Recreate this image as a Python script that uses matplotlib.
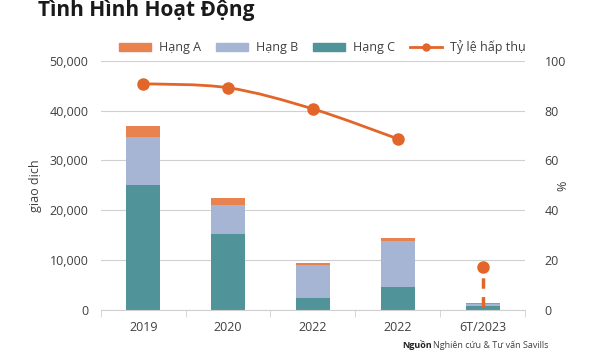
import matplotlib.pyplot as plt
import numpy as np
from matplotlib.path import Path
from matplotlib.patches import PathPatch
from matplotlib.lines import Line2D
from matplotlib.patches import Patch

plt.rcParams['font.family'] = ['Open Sans', 'DejaVu Sans']

# data
categories = ['2019', '2020', '2022', '2022', '6T/2023']
hang_c = [25100, 15300, 2400, 4600, 700]
hang_b = [9600, 5800, 6600, 9200, 500]
hang_a = [2300, 1400, 400, 600, 100]
ty_le = [90.8, 89.2, 80.7, 68.7, 17.3]

c_a = '#E8834F'
c_b = '#A6B5D3'
c_c = '#509399'
c_line = '#E2662A'
c_text = '#404040'
c_grid = '#D0D0D0'

fig = plt.figure(figsize=(6, 3.6), dpi=100)
ax = fig.add_axes([0.168, 0.139, 0.707, 0.692])
ax2 = ax.twinx()

x = np.arange(len(categories))
w = 0.4
bc = np.array(hang_c)
bb = np.array(hang_b)
ba = np.array(hang_a)
ax.bar(x, bc, w, color=c_c, zorder=2)
ax.bar(x, bb, w, bottom=bc, color=c_b, zorder=2)
ax.bar(x, ba, w, bottom=bc + bb, color=c_a, zorder=2)

ax.set_xlim(-0.5, len(categories) - 0.5)
ax.set_ylim(0, 50000)
ax.set_yticks(np.arange(0, 50001, 10000))
ax.set_yticklabels([f'{v:,}' for v in range(0, 50001, 10000)])
ax.grid(axis='y', color=c_grid, lw=0.8, zorder=0)
ax.set_axisbelow(True)
for s in ['top', 'right', 'left']:
    ax.spines[s].set_visible(False)
for s in ax2.spines.values():
    s.set_visible(False)
ax.spines['bottom'].set_color(c_grid)
ax.set_xticks(x)
ax.set_xticklabels(categories)
ax.set_xticks(np.arange(-0.5, len(categories)), minor=True)
ax.tick_params(axis='x', which='major', length=0, pad=8, labelsize=9, labelcolor=c_text)
ax.tick_params(axis='x', which='minor', length=5, color=c_grid)
ax.tick_params(axis='y', length=0, pad=9, labelsize=9, labelcolor=c_text)
ax.set_ylabel('giao dịch', fontsize=9, color=c_text)
ax.yaxis.set_label_coords(-0.139, 0.5)

ax2.set_ylim(0, 100)
ax2.set_yticks(np.arange(0, 101, 20))
ax2.tick_params(axis='y', length=0, pad=14, labelsize=9, labelcolor=c_text)
ax2.set_ylabel('%', fontsize=9, color=c_text)
ax2.yaxis.set_label_coords(1.075, 0.5)

# smoothed line through first four points (Catmull-Rom as bezier)
px = x[:4].astype(float)
py = np.array(ty_le[:4])
verts = [(px[0], py[0])]
codes = [Path.MOVETO]
for i in range(len(px) - 1):
    p0 = np.array([px[max(i - 1, 0)], py[max(i - 1, 0)]])
    p1 = np.array([px[i], py[i]])
    p2 = np.array([px[i + 1], py[i + 1]])
    p3 = np.array([px[min(i + 2, len(px) - 1)], py[min(i + 2, len(px) - 1)]])
    c1 = p1 + (p2 - p0) / 6
    c2 = p2 - (p3 - p1) / 6
    verts += [tuple(c1), tuple(c2), tuple(p2)]
    codes += [Path.CURVE4] * 3
ax2.add_patch(PathPatch(Path(verts, codes), fill=False, ec=c_line, lw=2, zorder=3))
ax2.plot(px, py, 'o', color=c_line, ms=8, zorder=4)
# dashed drop line for the half-year point, drawn from the bottom upward
ax2.plot([x[4], x[4]], [1.2, ty_le[4]], color=c_line, lw=2.5, ls=(0, (3.0, 2.4)),
         solid_capstyle='butt', dash_capstyle='butt', zorder=5)
ax2.plot(x[4], ty_le[4], 'o', color=c_line, ms=8, zorder=6)

handles = [Patch(color=c_a, label='Hạng A'), Patch(color=c_b, label='Hạng B'),
           Patch(color=c_c, label='Hạng C'),
           Line2D([], [], color=c_line, lw=2, marker='o', ms=5, label='Tỷ lệ hấp thụ')]
fig.legend(handles=handles, loc='center', bbox_to_anchor=(0.537, 0.868), ncol=4,
           frameon=False, fontsize=9, handlelength=2.6, handleheight=0.6,
           columnspacing=1.2, handletextpad=0.6, labelcolor=c_text)

fig.text(0.063, 0.97, 'Tình Hình Hoạt Động', fontsize=15, fontweight='bold',
         color='#1a1a1a', va='center', ha='left')
fig.text(0.67, 0.042, 'Nguồn', fontsize=6.5, fontweight='bold', color='#222222',
         va='center', ha='left')
fig.text(0.722, 0.042, 'Nghiên cứu & Tư vấn Savills', fontsize=6.5, color=c_text,
         va='center', ha='left')

fig.savefig('out.png', dpi=100, facecolor='white')
